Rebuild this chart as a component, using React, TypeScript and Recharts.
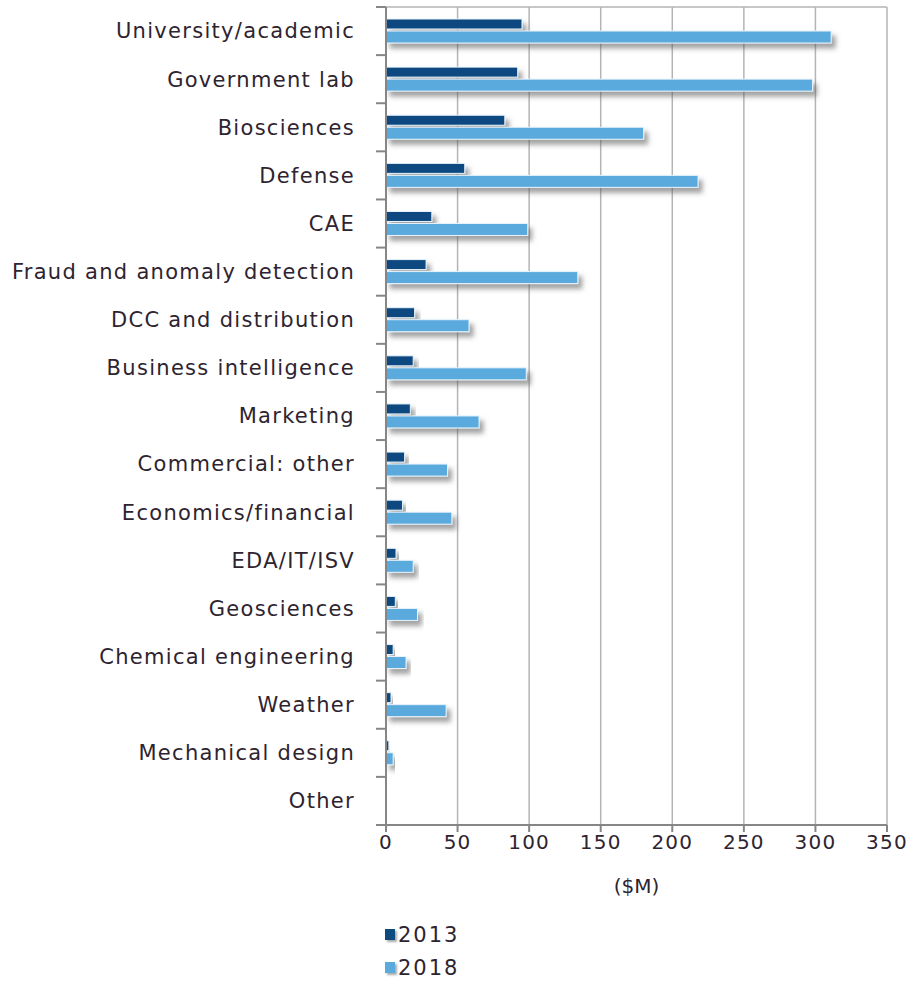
import React from "react";
import {
  BarChart,
  Bar,
  XAxis,
  YAxis,
  CartesianGrid,
  Legend,
} from "recharts";

// Segments, top to bottom
const SEGMENTS = [
  "University/academic",
  "Government lab",
  "Biosciences",
  "Defense",
  "CAE",
  "Fraud and anomaly detection",
  "DCC and distribution",
  "Business intelligence",
  "Marketing",
  "Commercial: other",
  "Economics/financial",
  "EDA/IT/ISV",
  "Geosciences",
  "Chemical engineering",
  "Weather",
  "Mechanical design",
  "Other",
];

// $M
const VALUES_2013 = [95, 92, 83, 55, 32, 28, 20, 19, 17, 13, 11.5, 7, 6.5, 5, 3.5, 2, 0];
const VALUES_2018 = [311, 298, 180, 218, 99, 134, 58, 98, 65, 43, 46, 19, 22, 14, 42, 5, 0.5];

const X_TICKS = [0, 50, 100, 150, 200, 250, 300, 350];

const DARK = "#0c4a80";
const LIGHT = "#5aaade";
const TEXT = "#2e2430";
const AXIS = "#868686";
const GRID = "#b4b4b4";
const FONT = "'DejaVu Sans', Verdana, sans-serif";

const W = 908;
const H = 981;
const MARGIN = { top: 7, right: 21, left: 0, bottom: 86 };
const X_AXIS_H = 70;
const Y_AXIS_W = 386;
const BAND = (H - MARGIN.top - MARGIN.bottom - X_AXIS_H) / SEGMENTS.length;

const data = SEGMENTS.map((name, i) => ({
  name,
  y2013: VALUES_2013[i],
  y2018: VALUES_2018[i],
}));

// category label + tick marks on the band edges
function SegmentTick(props: any) {
  const { x, y, payload, index } = props;
  const last = index === SEGMENTS.length - 1;
  return (
    <g>
      <line x1={x - 10} x2={x} y1={y - BAND / 2} y2={y - BAND / 2} stroke={AXIS} strokeWidth={2} />
      {last && (
        <line x1={x - 10} x2={x} y1={y + BAND / 2} y2={y + BAND / 2} stroke={AXIS} strokeWidth={2} />
      )}
      <text
        x={x - 31}
        y={y}
        dy="0.35em"
        textAnchor="end"
        fill={TEXT}
        fontSize={21}
        fontFamily={FONT}
        letterSpacing={1.3}
      >
        {payload.value}
      </text>
    </g>
  );
}

function ShadowBar(props: any) {
  const { x, y, width, height, fill } = props;
  if (!width || width <= 0) return <g />;
  return (
    <rect
      x={x}
      y={y}
      width={width}
      height={height}
      fill={fill}
      stroke="#e8f4fc"
      strokeWidth={1}
      filter="url(#barShadow)"
    />
  );
}

function YearLegend() {
  const items = [
    { label: "2013", color: DARK },
    { label: "2018", color: LIGHT },
  ];
  return (
    <div style={{ fontFamily: FONT, fontSize: 21, color: TEXT, letterSpacing: 2 }}>
      {items.map((it) => (
        <div key={it.label} style={{ display: "flex", alignItems: "center", height: 33 }}>
          <span
            style={{
              display: "inline-block",
              width: 10,
              height: 11,
              background: it.color,
              boxShadow: "2px 2px 2px #aaa",
              marginRight: 3,
            }}
          />
          {it.label}
        </div>
      ))}
    </div>
  );
}

export default function App() {
  return (
    <div style={{ position: "absolute", left: 0, top: 0, background: "#fff" }}>
      <BarChart
        width={W}
        height={H}
        data={data}
        layout="vertical"
        margin={MARGIN}
        barGap={2}
      >
        <defs>
          <filter id="barShadow" x="-10%" y="-50%" width="130%" height="250%">
            <feDropShadow dx={4} dy={5} stdDeviation={2.5} floodColor="#555" floodOpacity={0.55} />
          </filter>
        </defs>
        <CartesianGrid
          stroke={GRID}
          strokeWidth={1.5}
          horizontalCoordinatesGenerator={({ offset }: any) => [offset.top]}
        />
        <XAxis
          type="number"
          domain={[0, 350]}
          ticks={X_TICKS}
          interval={0}
          height={X_AXIS_H}
          axisLine={{ stroke: AXIS, strokeWidth: 2 }}
          tickLine={{ stroke: AXIS, strokeWidth: 2 }}
          tickSize={7}
          tickMargin={3}
          tick={{ fill: TEXT, fontSize: 20, fontFamily: FONT, letterSpacing: 1.2 }}
          label={{
            value: "($M)",
            position: "insideBottom",
            offset: 2,
            fill: TEXT,
            fontSize: 20,
            fontFamily: FONT,
          }}
        />
        <YAxis
          type="category"
          dataKey="name"
          width={Y_AXIS_W}
          interval={0}
          axisLine={{ stroke: AXIS, strokeWidth: 2 }}
          tickLine={false}
          tickSize={0}
          tickMargin={0}
          tick={<SegmentTick />}
        />
        <Legend
          layout="vertical"
          align="center"
          verticalAlign="middle"
          content={<YearLegend />}
          wrapperStyle={{ left: 385, top: 918, width: 120 }}
        />
        <Bar dataKey="y2013" name="2013" fill={DARK} barSize={10} shape={<ShadowBar />} isAnimationActive={false} />
        <Bar dataKey="y2018" name="2018" fill={LIGHT} barSize={12} shape={<ShadowBar />} isAnimationActive={false} />
      </BarChart>
    </div>
  );
}
